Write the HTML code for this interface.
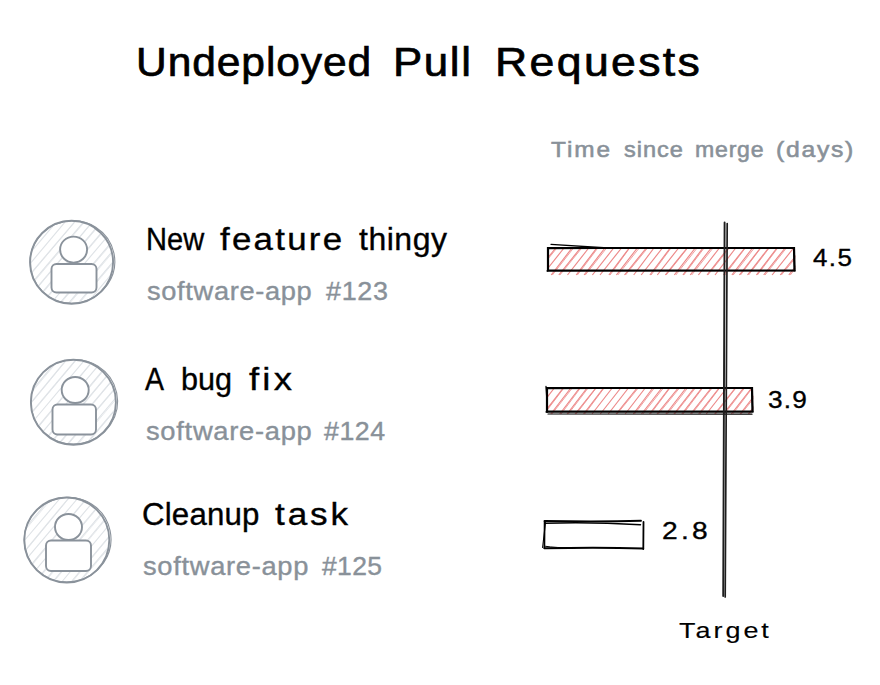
<!DOCTYPE html>
<html>
<head>
<meta charset="utf-8">
<style>
html,body{margin:0;padding:0;background:#ffffff;}
body{width:880px;height:685px;position:relative;overflow:hidden;font-family:"Liberation Sans",sans-serif;}
.t{position:absolute;left:0;white-space:nowrap;margin:0;}
.w{position:absolute;top:0;transform-origin:0 0;}
svg{position:absolute;left:0;top:0;}
</style>
</head>
<body>
<svg width="880" height="685" viewBox="0 0 880 685">
<clipPath id="ac1"><circle cx="71.6" cy="262.3" r="41.5"/></clipPath>
<g clip-path="url(#ac1)"><g stroke="#dee2e6" stroke-width="1.1"><line x1="-39.8" y1="303.8" x2="29.7" y2="220.8"/><line x1="-38.9" y1="303.8" x2="30.5" y2="220.8" stroke-width="0.77"/><line x1="-30.7" y1="303.8" x2="38.6" y2="220.8"/><line x1="-29.9" y1="303.8" x2="39.2" y2="220.8" stroke-width="0.77"/><line x1="-22.1" y1="303.8" x2="47.6" y2="220.8"/><line x1="-20.9" y1="303.8" x2="48.2" y2="220.8" stroke-width="0.77"/><line x1="-12.9" y1="303.8" x2="57.3" y2="220.8"/><line x1="-3.5" y1="303.8" x2="66.0" y2="220.8"/><line x1="4.9" y1="303.8" x2="75.5" y2="220.8"/><line x1="5.8" y1="303.8" x2="75.9" y2="220.8" stroke-width="0.77"/><line x1="14.2" y1="303.8" x2="84.5" y2="220.8"/><line x1="15.3" y1="303.8" x2="85.6" y2="220.8" stroke-width="0.77"/><line x1="23.3" y1="303.8" x2="93.2" y2="220.8"/><line x1="24.1" y1="303.8" x2="93.6" y2="220.8" stroke-width="0.77"/><line x1="32.7" y1="303.8" x2="102.0" y2="220.8"/><line x1="33.8" y1="303.8" x2="102.9" y2="220.8" stroke-width="0.77"/><line x1="41.2" y1="303.8" x2="111.5" y2="220.8"/><line x1="42.1" y1="303.8" x2="112.4" y2="220.8" stroke-width="0.77"/><line x1="50.5" y1="303.8" x2="120.6" y2="220.8"/><line x1="59.2" y1="303.8" x2="129.7" y2="220.8"/><line x1="60.2" y1="303.8" x2="130.9" y2="220.8" stroke-width="0.77"/><line x1="68.0" y1="303.8" x2="138.1" y2="220.8"/><line x1="69.2" y1="303.8" x2="139.5" y2="220.8" stroke-width="0.77"/><line x1="77.5" y1="303.8" x2="147.6" y2="220.8"/><line x1="78.7" y1="303.8" x2="148.7" y2="220.8" stroke-width="0.77"/><line x1="86.6" y1="303.8" x2="156.0" y2="220.8"/><line x1="96.0" y1="303.8" x2="165.1" y2="220.8"/><line x1="96.8" y1="303.8" x2="166.0" y2="220.8" stroke-width="0.77"/><line x1="104.6" y1="303.8" x2="174.7" y2="220.8"/><line x1="113.2" y1="303.8" x2="183.0" y2="220.8"/><line x1="114.0" y1="303.8" x2="183.6" y2="220.8" stroke-width="0.77"/></g></g>
<g fill="none" stroke="#8a929b" stroke-width="1.9">
<ellipse cx="71.6" cy="262.3" rx="41.5" ry="41.5"/>
<ellipse cx="72.5" cy="262.1" rx="42.4" ry="41.2" stroke-width="1.1" transform="rotate(-12 71.6 262.3)"/>
</g>
<g fill="#fff" stroke="#8a929b" stroke-width="1.9">
<ellipse cx="73.6" cy="249.6" rx="13.5" ry="13.0"/>
<rect x="51.5" y="264" width="45" height="28.5" rx="5"/>
</g>
<clipPath id="ac2"><circle cx="73.4" cy="402.2" r="42.5"/></clipPath>
<g clip-path="url(#ac2)"><g stroke="#dee2e6" stroke-width="1.1"><line x1="-40.8" y1="444.7" x2="30.4" y2="359.7"/><line x1="-39.6" y1="444.7" x2="31.0" y2="359.7" stroke-width="0.77"/><line x1="-31.7" y1="444.7" x2="39.8" y2="359.7"/><line x1="-22.9" y1="444.7" x2="48.8" y2="359.7"/><line x1="-21.7" y1="444.7" x2="50.4" y2="359.7" stroke-width="0.77"/><line x1="-13.0" y1="444.7" x2="57.6" y2="359.7"/><line x1="-12.0" y1="444.7" x2="58.9" y2="359.7" stroke-width="0.77"/><line x1="-3.9" y1="444.7" x2="66.5" y2="359.7"/><line x1="-3.0" y1="444.7" x2="67.0" y2="359.7" stroke-width="0.77"/><line x1="4.6" y1="444.7" x2="76.0" y2="359.7"/><line x1="5.3" y1="444.7" x2="76.6" y2="359.7" stroke-width="0.77"/><line x1="13.4" y1="444.7" x2="85.0" y2="359.7"/><line x1="22.8" y1="444.7" x2="93.9" y2="359.7"/><line x1="23.9" y1="444.7" x2="94.3" y2="359.7" stroke-width="0.77"/><line x1="32.1" y1="444.7" x2="103.2" y2="359.7"/><line x1="40.9" y1="444.7" x2="111.8" y2="359.7"/><line x1="41.8" y1="444.7" x2="112.7" y2="359.7" stroke-width="0.77"/><line x1="49.1" y1="444.7" x2="120.4" y2="359.7"/><line x1="49.9" y1="444.7" x2="121.0" y2="359.7" stroke-width="0.77"/><line x1="58.0" y1="444.7" x2="129.3" y2="359.7"/><line x1="58.9" y1="444.7" x2="129.9" y2="359.7" stroke-width="0.77"/><line x1="67.0" y1="444.7" x2="139.3" y2="359.7"/><line x1="67.9" y1="444.7" x2="139.9" y2="359.7" stroke-width="0.77"/><line x1="76.4" y1="444.7" x2="147.7" y2="359.7"/><line x1="77.6" y1="444.7" x2="149.6" y2="359.7" stroke-width="0.77"/><line x1="85.5" y1="444.7" x2="156.9" y2="359.7"/><line x1="86.4" y1="444.7" x2="157.5" y2="359.7" stroke-width="0.77"/><line x1="94.3" y1="444.7" x2="166.3" y2="359.7"/><line x1="95.1" y1="444.7" x2="167.4" y2="359.7" stroke-width="0.77"/><line x1="103.6" y1="444.7" x2="174.5" y2="359.7"/><line x1="104.4" y1="444.7" x2="175.2" y2="359.7" stroke-width="0.77"/><line x1="113.2" y1="444.7" x2="184.3" y2="359.7"/><line x1="114.1" y1="444.7" x2="185.0" y2="359.7" stroke-width="0.77"/><line x1="121.2" y1="444.7" x2="193.2" y2="359.7"/><line x1="122.4" y1="444.7" x2="194.1" y2="359.7" stroke-width="0.77"/></g></g>
<g fill="none" stroke="#8a929b" stroke-width="1.9">
<ellipse cx="73.4" cy="402.2" rx="42.5" ry="42.5"/>
<ellipse cx="74.30000000000001" cy="402.0" rx="43.4" ry="42.2" stroke-width="1.1" transform="rotate(-12 73.4 402.2)"/>
</g>
<g fill="#fff" stroke="#8a929b" stroke-width="1.9">
<ellipse cx="75.2" cy="390" rx="13.5" ry="13.0"/>
<rect x="52.5" y="404.5" width="43.5" height="30" rx="5"/>
</g>
<clipPath id="ac3"><circle cx="66.8" cy="540" r="42.5"/></clipPath>
<g clip-path="url(#ac3)"><g stroke="#dee2e6" stroke-width="1.1"><line x1="-47.4" y1="582.5" x2="24.7" y2="497.5"/><line x1="-37.6" y1="582.5" x2="33.7" y2="497.5"/><line x1="-28.7" y1="582.5" x2="42.0" y2="497.5"/><line x1="-27.8" y1="582.5" x2="42.3" y2="497.5" stroke-width="0.77"/><line x1="-20.6" y1="582.5" x2="51.0" y2="497.5"/><line x1="-19.4" y1="582.5" x2="52.7" y2="497.5" stroke-width="0.77"/><line x1="-11.1" y1="582.5" x2="60.8" y2="497.5"/><line x1="-1.5" y1="582.5" x2="69.1" y2="497.5"/><line x1="-0.6" y1="582.5" x2="69.6" y2="497.5" stroke-width="0.77"/><line x1="6.6" y1="582.5" x2="78.4" y2="497.5"/><line x1="16.4" y1="582.5" x2="87.3" y2="497.5"/><line x1="17.6" y1="582.5" x2="87.8" y2="497.5" stroke-width="0.77"/><line x1="25.2" y1="582.5" x2="96.8" y2="497.5"/><line x1="34.3" y1="582.5" x2="105.3" y2="497.5"/><line x1="35.5" y1="582.5" x2="106.1" y2="497.5" stroke-width="0.77"/><line x1="43.3" y1="582.5" x2="114.9" y2="497.5"/><line x1="44.3" y1="582.5" x2="116.3" y2="497.5" stroke-width="0.77"/><line x1="52.2" y1="582.5" x2="122.9" y2="497.5"/><line x1="53.1" y1="582.5" x2="124.1" y2="497.5" stroke-width="0.77"/><line x1="61.3" y1="582.5" x2="131.9" y2="497.5"/><line x1="70.6" y1="582.5" x2="141.5" y2="497.5"/><line x1="71.6" y1="582.5" x2="142.0" y2="497.5" stroke-width="0.77"/><line x1="78.4" y1="582.5" x2="150.9" y2="497.5"/><line x1="79.4" y1="582.5" x2="152.4" y2="497.5" stroke-width="0.77"/><line x1="87.9" y1="582.5" x2="159.7" y2="497.5"/><line x1="96.6" y1="582.5" x2="168.0" y2="497.5"/><line x1="97.5" y1="582.5" x2="168.9" y2="497.5" stroke-width="0.77"/><line x1="105.7" y1="582.5" x2="177.2" y2="497.5"/><line x1="106.9" y1="582.5" x2="178.1" y2="497.5" stroke-width="0.77"/><line x1="114.9" y1="582.5" x2="186.4" y2="497.5"/></g></g>
<g fill="none" stroke="#8a929b" stroke-width="1.9">
<ellipse cx="66.8" cy="540" rx="42.5" ry="42.5"/>
<ellipse cx="67.7" cy="539.8" rx="43.4" ry="42.2" stroke-width="1.1" transform="rotate(-12 66.8 540)"/>
</g>
<g fill="#fff" stroke="#8a929b" stroke-width="1.9">
<ellipse cx="68.5" cy="527" rx="13.5" ry="13.0"/>
<rect x="46" y="540.5" width="45" height="30.5" rx="5"/>
</g>
<clipPath id="bc1"><rect x="547" y="246" width="248.5" height="30.5"/></clipPath>
<g clip-path="url(#bc1)"><g stroke="#ec8686" stroke-width="1.15"><line x1="526.4" y1="275.0" x2="548.5" y2="247.5"/><line x1="527.6" y1="275.0" x2="549.6" y2="247.5" stroke-width="0.80"/><line x1="534.1" y1="275.0" x2="556.1" y2="247.5"/><line x1="535.0" y1="275.0" x2="557.3" y2="247.5" stroke-width="0.80"/><line x1="542.5" y1="275.0" x2="564.4" y2="247.5"/><line x1="551.2" y1="275.0" x2="572.4" y2="247.5"/><line x1="552.4" y1="275.0" x2="573.9" y2="247.5" stroke-width="0.80"/><line x1="558.8" y1="275.0" x2="580.9" y2="247.5"/><line x1="559.9" y1="275.0" x2="582.2" y2="247.5" stroke-width="0.80"/><line x1="567.5" y1="275.0" x2="589.1" y2="247.5"/><line x1="576.2" y1="275.0" x2="597.1" y2="247.5"/><line x1="577.4" y1="275.0" x2="598.2" y2="247.5" stroke-width="0.80"/><line x1="584.1" y1="275.0" x2="605.3" y2="247.5"/><line x1="585.3" y1="275.0" x2="607.0" y2="247.5" stroke-width="0.80"/><line x1="592.4" y1="275.0" x2="614.1" y2="247.5"/><line x1="600.0" y1="275.0" x2="621.9" y2="247.5"/><line x1="608.9" y1="275.0" x2="629.6" y2="247.5"/><line x1="610.1" y1="275.0" x2="630.0" y2="247.5" stroke-width="0.80"/><line x1="616.4" y1="275.0" x2="637.7" y2="247.5"/><line x1="617.8" y1="275.0" x2="639.6" y2="247.5" stroke-width="0.80"/><line x1="624.5" y1="275.0" x2="646.7" y2="247.5"/><line x1="625.5" y1="275.0" x2="648.0" y2="247.5" stroke-width="0.80"/><line x1="633.7" y1="275.0" x2="654.3" y2="247.5"/><line x1="641.2" y1="275.0" x2="662.8" y2="247.5"/><line x1="649.9" y1="275.0" x2="670.6" y2="247.5"/><line x1="651.1" y1="275.0" x2="671.4" y2="247.5" stroke-width="0.80"/><line x1="657.3" y1="275.0" x2="679.0" y2="247.5"/><line x1="665.3" y1="275.0" x2="687.5" y2="247.5"/><line x1="666.2" y1="275.0" x2="688.1" y2="247.5" stroke-width="0.80"/><line x1="674.3" y1="275.0" x2="695.6" y2="247.5"/><line x1="675.8" y1="275.0" x2="697.5" y2="247.5" stroke-width="0.80"/><line x1="682.9" y1="275.0" x2="703.3" y2="247.5"/><line x1="683.8" y1="275.0" x2="704.5" y2="247.5" stroke-width="0.80"/><line x1="690.2" y1="275.0" x2="711.6" y2="247.5"/><line x1="691.7" y1="275.0" x2="713.4" y2="247.5" stroke-width="0.80"/><line x1="698.4" y1="275.0" x2="719.8" y2="247.5"/><line x1="707.0" y1="275.0" x2="728.6" y2="247.5"/><line x1="707.9" y1="275.0" x2="729.7" y2="247.5" stroke-width="0.80"/><line x1="715.0" y1="275.0" x2="736.1" y2="247.5"/><line x1="723.5" y1="275.0" x2="745.2" y2="247.5"/><line x1="724.9" y1="275.0" x2="745.7" y2="247.5" stroke-width="0.80"/><line x1="731.9" y1="275.0" x2="752.9" y2="247.5"/><line x1="733.2" y1="275.0" x2="754.7" y2="247.5" stroke-width="0.80"/><line x1="739.4" y1="275.0" x2="760.8" y2="247.5"/><line x1="740.5" y1="275.0" x2="761.2" y2="247.5" stroke-width="0.80"/><line x1="747.5" y1="275.0" x2="768.9" y2="247.5"/><line x1="748.6" y1="275.0" x2="769.6" y2="247.5" stroke-width="0.80"/><line x1="756.4" y1="275.0" x2="777.3" y2="247.5"/><line x1="757.4" y1="275.0" x2="778.1" y2="247.5" stroke-width="0.80"/><line x1="763.7" y1="275.0" x2="785.5" y2="247.5"/><line x1="765.1" y1="275.0" x2="786.8" y2="247.5" stroke-width="0.80"/><line x1="772.1" y1="275.0" x2="794.0" y2="247.5"/><line x1="780.2" y1="275.0" x2="802.6" y2="247.5"/><line x1="781.4" y1="275.0" x2="804.1" y2="247.5" stroke-width="0.80"/><line x1="788.8" y1="275.0" x2="810.4" y2="247.5"/><line x1="790.3" y1="275.0" x2="811.5" y2="247.5" stroke-width="0.80"/><line x1="797.5" y1="275.0" x2="818.8" y2="247.5"/><line x1="798.7" y1="275.0" x2="819.7" y2="247.5" stroke-width="0.80"/></g></g>
<g fill="none" stroke="#000" stroke-width="2.2" stroke-linecap="round">
<path d="M548 248 L794 248 L794.6 270.5 L548 270.5 Z"/>
<path d="M547.5 248.6 L794.3 247.6 M547 270.9 L794.8 270.7 M548.4 247.5 L547.8 271.3 M793.8 248.3 L794.5 271.0" stroke-width="1.21"/>
</g>
<clipPath id="bc2"><rect x="546" y="386" width="207.5" height="31.5"/></clipPath>
<g clip-path="url(#bc2)"><g stroke="#ec8686" stroke-width="1.15"><line x1="525.8" y1="414.0" x2="546.6" y2="387.5"/><line x1="527.1" y1="414.0" x2="547.4" y2="387.5" stroke-width="0.80"/><line x1="534.1" y1="414.0" x2="554.7" y2="387.5"/><line x1="543.1" y1="414.0" x2="563.6" y2="387.5"/><line x1="544.2" y1="414.0" x2="564.3" y2="387.5" stroke-width="0.80"/><line x1="550.8" y1="414.0" x2="571.2" y2="387.5"/><line x1="551.9" y1="414.0" x2="572.7" y2="387.5" stroke-width="0.80"/><line x1="559.7" y1="414.0" x2="579.9" y2="387.5"/><line x1="561.1" y1="414.0" x2="580.8" y2="387.5" stroke-width="0.80"/><line x1="567.1" y1="414.0" x2="587.4" y2="387.5"/><line x1="568.3" y1="414.0" x2="588.5" y2="387.5" stroke-width="0.80"/><line x1="575.1" y1="414.0" x2="596.2" y2="387.5"/><line x1="576.2" y1="414.0" x2="596.6" y2="387.5" stroke-width="0.80"/><line x1="583.6" y1="414.0" x2="603.9" y2="387.5"/><line x1="584.7" y1="414.0" x2="604.5" y2="387.5" stroke-width="0.80"/><line x1="592.0" y1="414.0" x2="612.6" y2="387.5"/><line x1="600.3" y1="414.0" x2="621.1" y2="387.5"/><line x1="608.2" y1="414.0" x2="628.8" y2="387.5"/><line x1="616.1" y1="414.0" x2="637.5" y2="387.5"/><line x1="617.0" y1="414.0" x2="638.7" y2="387.5" stroke-width="0.80"/><line x1="625.2" y1="414.0" x2="645.6" y2="387.5"/><line x1="633.3" y1="414.0" x2="653.2" y2="387.5"/><line x1="634.5" y1="414.0" x2="654.7" y2="387.5" stroke-width="0.80"/><line x1="641.5" y1="414.0" x2="662.2" y2="387.5"/><line x1="642.9" y1="414.0" x2="663.8" y2="387.5" stroke-width="0.80"/><line x1="649.5" y1="414.0" x2="669.7" y2="387.5"/><line x1="650.5" y1="414.0" x2="670.4" y2="387.5" stroke-width="0.80"/><line x1="657.0" y1="414.0" x2="678.6" y2="387.5"/><line x1="658.3" y1="414.0" x2="679.9" y2="387.5" stroke-width="0.80"/><line x1="665.9" y1="414.0" x2="686.4" y2="387.5"/><line x1="667.3" y1="414.0" x2="688.0" y2="387.5" stroke-width="0.80"/><line x1="673.9" y1="414.0" x2="694.6" y2="387.5"/><line x1="674.8" y1="414.0" x2="695.8" y2="387.5" stroke-width="0.80"/><line x1="681.8" y1="414.0" x2="702.3" y2="387.5"/><line x1="683.1" y1="414.0" x2="703.0" y2="387.5" stroke-width="0.80"/><line x1="690.6" y1="414.0" x2="711.6" y2="387.5"/><line x1="691.7" y1="414.0" x2="712.6" y2="387.5" stroke-width="0.80"/><line x1="698.7" y1="414.0" x2="719.5" y2="387.5"/><line x1="700.0" y1="414.0" x2="720.0" y2="387.5" stroke-width="0.80"/><line x1="706.3" y1="414.0" x2="727.1" y2="387.5"/><line x1="714.7" y1="414.0" x2="735.7" y2="387.5"/><line x1="715.6" y1="414.0" x2="736.3" y2="387.5" stroke-width="0.80"/><line x1="723.3" y1="414.0" x2="744.0" y2="387.5"/><line x1="724.4" y1="414.0" x2="745.0" y2="387.5" stroke-width="0.80"/><line x1="731.3" y1="414.0" x2="752.0" y2="387.5"/><line x1="732.7" y1="414.0" x2="752.7" y2="387.5" stroke-width="0.80"/><line x1="740.1" y1="414.0" x2="760.7" y2="387.5"/><line x1="741.2" y1="414.0" x2="762.2" y2="387.5" stroke-width="0.80"/><line x1="748.3" y1="414.0" x2="768.3" y2="387.5"/><line x1="749.3" y1="414.0" x2="769.8" y2="387.5" stroke-width="0.80"/><line x1="755.5" y1="414.0" x2="776.7" y2="387.5"/><line x1="756.8" y1="414.0" x2="778.5" y2="387.5" stroke-width="0.80"/></g></g>
<g fill="none" stroke="#000" stroke-width="2.2" stroke-linecap="round">
<path d="M547 388 L752 388 L752.6 411.5 L547 411.5 Z"/>
<path d="M546.5 388.6 L752.3 387.6 M546 411.9 L752.8 411.7 M547.4 387.5 L546.8 412.3 M751.8 388.3 L752.5 412.0" stroke-width="1.21"/>
</g>
<g stroke="#000" fill="none" stroke-linecap="round"><path d="M551 244.4 Q578 246.2 608 248" stroke-width="1.3"/><path d="M548 414 L752 414.2" stroke-width="1.2"/><path d="M546 386.5 Q547 399 547.5 412" stroke-width="1.3"/></g>
<g stroke="#000" fill="none" stroke-linecap="round"><path d="M544.5 521 Q600 521.8 641 520.8" stroke-width="1.9"/><path d="M545 523.3 Q590 521.8 640.5 524.8" stroke-width="1.4"/><path d="M544.6 521.5 L544.4 548" stroke-width="1.7"/><path d="M542.6 547.5 L545.5 522.5" stroke-width="1.1"/><path d="M544.4 548.3 Q600 547.2 643.2 548.5" stroke-width="1.9"/><path d="M545.5 546.3 Q555 547.8 575 548" stroke-width="1.0"/><path d="M643.5 522 L643.3 549" stroke-width="1.8"/></g>
<g stroke="#1e1e1e" fill="none" stroke-linecap="round"><path d="M724.6 222.5 L723.2 596" stroke-width="1.9"/><path d="M727.2 223.5 L725.2 597" stroke-width="1.7"/></g>
</svg>
<div class="t" style="top:42.29px;font-size:41px;line-height:41px;color:#000;-webkit-text-stroke:0.7px #000;"><span class="w" style="left:135.93px;letter-spacing:0.889px;transform:scaleX(1.0372)">Undeployed</span> <span class="w" style="left:392.86px;letter-spacing:1.498px;transform:scaleX(1.0691)">Pull</span> <span class="w" style="left:494.82px;letter-spacing:2.155px;transform:scaleX(1.0882)">Requests</span></div>
<div class="t" style="top:138.88px;font-size:22px;line-height:22px;color:#899199;-webkit-text-stroke:0.55px #899199;"><span class="w" style="left:551.0px;letter-spacing:1.739px;transform:scaleX(1.1087)">Time</span> <span class="w" style="left:623.6px;letter-spacing:0.894px;transform:scaleX(1.0701)">since</span> <span class="w" style="left:695.0px;letter-spacing:0.757px;transform:scaleX(1.0488)">merge</span> <span class="w" style="left:776.37px;letter-spacing:1.514px;transform:scaleX(1.1262)">(days)</span></div>
<div class="t" style="top:223.76px;font-size:31px;line-height:31px;color:#000;-webkit-text-stroke:0.35px #000;"><span class="w" style="left:145.72px;letter-spacing:0.0px;transform:scaleX(0.9377)">New</span> <span class="w" style="left:219.5px;letter-spacing:2.0px;transform:scaleX(1.125)">feature</span> <span class="w" style="left:359.3px;letter-spacing:0.512px;transform:scaleX(1.0308)">thingy</span></div>
<div class="t" style="top:277.99px;font-size:26px;line-height:26px;color:#899199;-webkit-text-stroke:0.38px #899199;"><span class="w" style="left:147.0px;letter-spacing:0.64px;transform:scaleX(1.0469)">software-app</span> <span class="w" style="left:325.8px;letter-spacing:0.688px;transform:scaleX(1.0356)">#123</span></div>
<div class="t" style="top:363.56px;font-size:31px;line-height:31px;color:#000;-webkit-text-stroke:0.35px #000;"><span class="w" style="left:144.7px;letter-spacing:0.0px;transform:scaleX(0.919)">A</span> <span class="w" style="left:181.31px;letter-spacing:0.0px;transform:scaleX(0.986)">bug</span> <span class="w" style="left:249.0px;letter-spacing:2.734px;transform:scaleX(1.1764)">fix</span></div>
<div class="t" style="top:418.29px;font-size:26px;line-height:26px;color:#899199;-webkit-text-stroke:0.38px #899199;"><span class="w" style="left:145.6px;letter-spacing:0.683px;transform:scaleX(1.0501)">software-app</span> <span class="w" style="left:324.4px;letter-spacing:0.542px;transform:scaleX(1.0281)">#124</span></div>
<div class="t" style="top:499.26px;font-size:31px;line-height:31px;color:#000;-webkit-text-stroke:0.35px #000;"><span class="w" style="left:141.69px;letter-spacing:0.158px;transform:scaleX(1.0083)">Cleanup</span> <span class="w" style="left:275.1px;letter-spacing:2.531px;transform:scaleX(1.1332)">task</span></div>
<div class="t" style="top:553.49px;font-size:26px;line-height:26px;color:#899199;-webkit-text-stroke:0.38px #899199;"><span class="w" style="left:142.7px;letter-spacing:0.666px;transform:scaleX(1.0488)">software-app</span> <span class="w" style="left:322.4px;letter-spacing:0.347px;transform:scaleX(1.0179)">#125</span></div>
<div class="t" style="top:246.48px;font-size:24px;line-height:24px;color:#000;-webkit-text-stroke:0.35px #000;"><span class="w" style="left:813.0px;letter-spacing:1.299px;transform:scaleX(1.0787)">4.5</span></div>
<div class="t" style="top:388.06px;font-size:24.5px;line-height:24.5px;color:#000;-webkit-text-stroke:0.35px #000;"><span class="w" style="left:768.2px;letter-spacing:1.16px;transform:scaleX(1.0683)">3.9</span></div>
<div class="t" style="top:518.88px;font-size:24px;line-height:24px;color:#000;-webkit-text-stroke:0.35px #000;"><span class="w" style="left:661.83px;letter-spacing:2.762px;transform:scaleX(1.1726)">2.8</span></div>
<div class="t" style="top:620.25px;font-size:22.5px;line-height:22.5px;color:#000;-webkit-text-stroke:0.15px #000;"><span class="w" style="left:678.9px;letter-spacing:2.493px;transform:scaleX(1.1979)">Target</span></div>
</body>
</html>
